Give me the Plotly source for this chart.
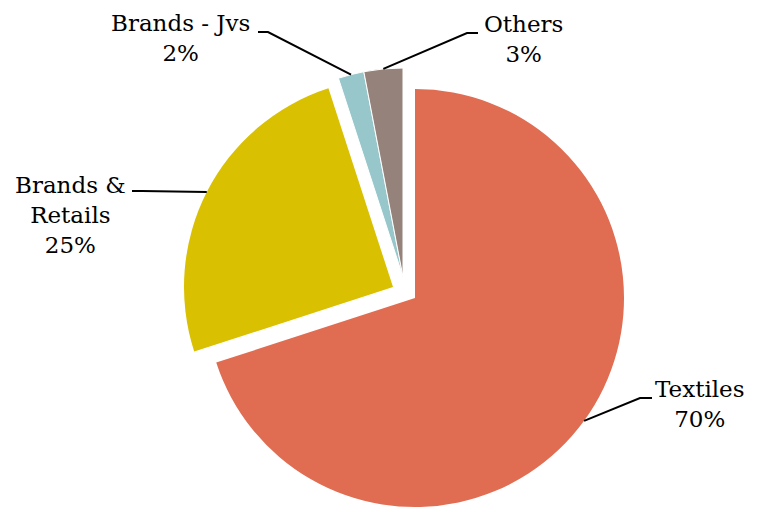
import math
import plotly.graph_objects as go

W, H = 757, 508
PAGE_OFF = 8  # browser body margin

categories = ["Textiles", "Brands & Retails", "Brands - Jvs", "Others"]
label_lines = [["Textiles"], ["Brands &", "Retails"], ["Brands - Jvs"], ["Others"]]
values = [70, 25, 2, 3]
colors = ["#E06C52", "#D9C000", "#98C7CB", "#95827A"]

# geometry (page pixels)
CX, CY, R = 415, 298, 209
offsets = [(0, 0), (-22, -11), (-12, -21), (-12, -21)]  # exploded positions
# label layout (page pixels): text centre, line end at text, elbow
label_pos = [(700, 404), (70, 215), (180, 38), (523, 39)]
line_end = [(652, 398), (132, 191), (258, 32), (478, 33)]
elbow = [(640, 398), (142, 191), (268, 32), (467, 33)]

FONT = "DejaVu Serif"


def px(x, y):
    return (x - PAGE_OFF) / W, 1 - (y - PAGE_OFF) / H


fig = go.Figure()

groups = []
for i, off in enumerate(offsets):
    if off not in groups:
        groups.append(off)

for off in groups:
    idx = [i for i, o in enumerate(offsets) if o == off]
    cx, cy = CX + off[0] - PAGE_OFF, CY + off[1] - PAGE_OFF
    cols = [colors[i] if i in idx else "rgba(0,0,0,0)" for i in range(len(values))]
    lw = [1 if (i in idx and len(idx) > 1) else 0 for i in range(len(values))]
    fig.add_trace(go.Pie(
        labels=categories,
        values=values,
        sort=False,
        direction="clockwise",
        rotation=0,
        textinfo="none",
        hoverinfo="skip",
        showlegend=False,
        marker=dict(colors=cols, line=dict(color="white", width=lw)),
        domain=dict(x=[max(0, (cx - R) / W), min(1, (cx + R) / W)],
                    y=[max(0, 1 - (cy + R) / H), min(1, 1 - (cy - R) / H)]),
    ))

total = sum(values)
cum = 0
for i, v in enumerate(values):
    mid = (cum + v / 2) / total * 2 * math.pi
    cum += v
    dx, dy = offsets[i]
    ax = CX + dx + R * math.sin(mid)
    ay = CY + dy - R * math.cos(mid)
    pts = [line_end[i], elbow[i], (ax, ay)]
    path = "M " + " L ".join("{:.5f},{:.5f}".format(*px(x, y)) for x, y in pts)
    fig.add_shape(type="path", path=path, xref="paper", yref="paper",
                  line=dict(color="black", width=2))
    tx, ty = px(*label_pos[i])
    fig.add_annotation(
        x=tx, y=ty, xref="paper", yref="paper",
        text="<br>".join(label_lines[i] + [f"{v}%"]),
        showarrow=False, xanchor="center", yanchor="middle", align="center",
        font=dict(family=FONT, size=23, color="black"),
    )

fig.update_layout(
    width=W, height=H,
    margin=dict(l=0, r=0, t=0, b=0),
    paper_bgcolor="white",
    plot_bgcolor="white",
)

fig.write_html("out.html")
